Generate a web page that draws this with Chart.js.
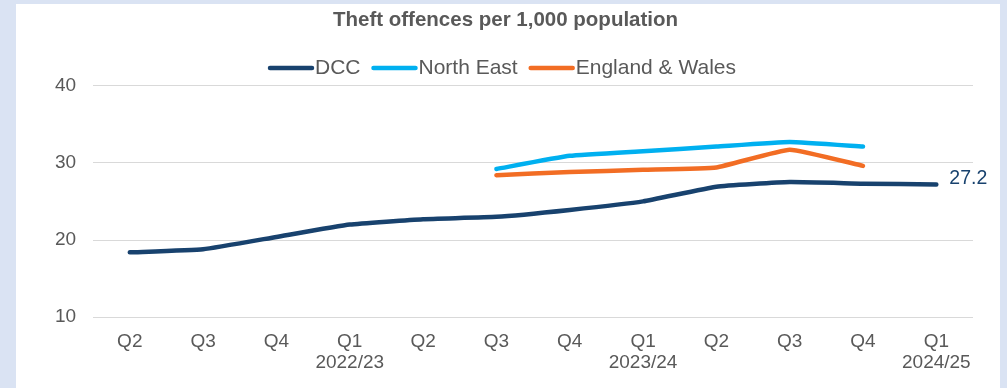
<!DOCTYPE html>
<html>
<head>
<meta charset="utf-8">
<script src="https://cdn.jsdelivr.net/npm/chart.js@4"></script>
<style>
  html, body { margin: 0; padding: 0; background: #dae3f3; }
  #panel { position: absolute; left: 16px; top: 4px; width: 984px; height: 384px; background: #fff; }
  #myChart { display: block; }
</style>
</head>
<body>
<div id="panel"><canvas id="myChart" width="984" height="384"></canvas></div>
<script>
var quarters = [
  "Q2", "Q3", "Q4", ["Q1", "2022/23"], "Q2", "Q3",
  "Q4", ["Q1", "2023/24"], "Q2", "Q3", "Q4", ["Q1", "2024/25"]
];
var dcc = [18.4, 18.8, 20.4, 22.0, 22.7, 23.0, 23.9, 25.0, 26.9, 27.5, 27.3, 27.2];
var northEast = [null, null, null, null, null, 29.2, 30.9, 31.5, 32.1, 32.7, 32.1, null];
var englandWales = [null, null, null, null, null, 28.4, 28.8, 29.1, 29.4, 31.7, 29.6, null];

var navy = "#18426e";
var sky = "#00b0f0";
var orange = "#f26d24";
var grey = "#595959";
var fontFamily = "'Liberation Sans', Arial, sans-serif";

function series(label, data, colour) {
  return {
    label: label,
    data: data,
    borderColor: colour,
    backgroundColor: colour,
    borderWidth: 4.5,
    borderCapStyle: "round",
    borderJoinStyle: "round",
    pointRadius: 0,
    tension: 0.12
  };
}

// legend drawn by hand so the line sits right against its label
var lineLegend = {
  id: "lineLegend",
  afterDraw: function(chart) {
    var ctx = chart.ctx;
    var sets = chart.data.datasets;
    var lineLen = 46, gap = 1, between = 11;
    ctx.save();
    ctx.font = "21px " + fontFamily;
    var total = 0;
    sets.forEach(function(ds, i) {
      total += lineLen + gap + ctx.measureText(ds.label).width;
      if (i < sets.length - 1) total += between;
    });
    var x = 486 - total / 2;
    var y = 64;
    sets.forEach(function(ds) {
      ctx.strokeStyle = ds.borderColor;
      ctx.lineWidth = 4.5;
      ctx.lineCap = "round";
      ctx.beginPath();
      ctx.moveTo(x + 2, y);
      ctx.lineTo(x + lineLen - 2, y);
      ctx.stroke();
      x += lineLen + gap;
      ctx.fillStyle = grey;
      ctx.textBaseline = "middle";
      ctx.fillText(ds.label, x, y);
      x += ctx.measureText(ds.label).width + between;
    });
    ctx.restore();
  }
};

// value label at the end of the DCC line
var endLabel = {
  id: "endLabel",
  afterDatasetsDraw: function(chart) {
    var meta = chart.getDatasetMeta(0);
    var last = meta.data[meta.data.length - 1];
    var ctx = chart.ctx;
    ctx.save();
    ctx.font = "19.5px " + fontFamily;
    ctx.fillStyle = navy;
    ctx.textBaseline = "middle";
    ctx.fillText(dcc[dcc.length - 1].toFixed(1), last.x + 13, last.y - 6);
    ctx.restore();
  }
};

var ctx = document.getElementById("myChart").getContext("2d");
var myChart = new Chart(ctx, {
  type: "line",
  data: {
    labels: quarters,
    datasets: [
      series("DCC", dcc, navy),
      series("North East", northEast, sky),
      series("England & Wales", englandWales, orange)
    ]
  },
  options: {
    responsive: false,
    animation: false,
    layout: { padding: { left: 22, right: 27, top: 0, bottom: 1 } },
    plugins: {
      legend: { display: false },
      tooltip: { enabled: false },
      title: {
        display: true,
        text: "Theft offences per 1,000 population",
        color: grey,
        font: { family: fontFamily, size: 20.5, weight: "bold" },
        padding: { top: 4, bottom: 53 }
      }
    },
    scales: {
      x: {
        offset: true,
        grid: { display: false, drawTicks: false },
        border: { display: false },
        ticks: {
          color: grey,
          font: { family: fontFamily, size: 19, lineHeight: 1.1 },
          padding: 14,
          maxRotation: 0,
          autoSkip: false
        }
      },
      y: {
        min: 10,
        max: 40,
        grid: { color: "#d9d9d9", lineWidth: 1, drawTicks: false },
        border: { display: false },
        ticks: {
          stepSize: 10,
          color: grey,
          font: { family: fontFamily, size: 19 },
          padding: 17
        }
      }
    }
  },
  plugins: [lineLegend, endLabel]
});
</script>
</body>
</html>
